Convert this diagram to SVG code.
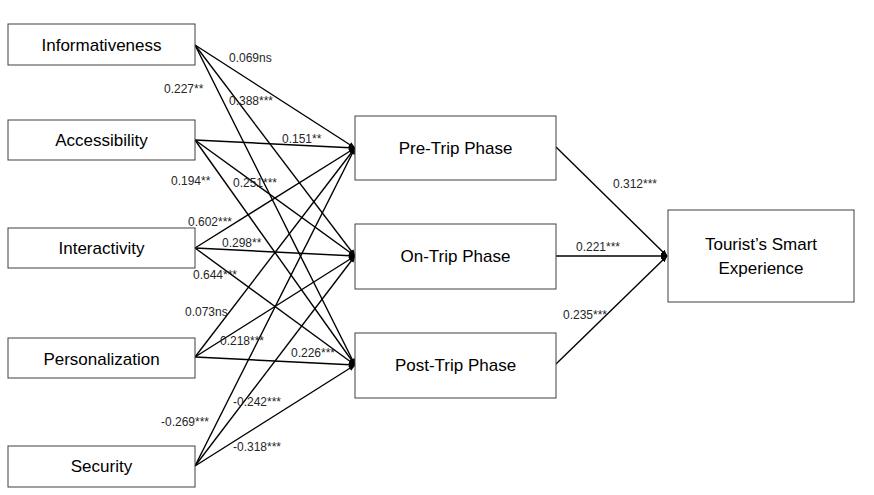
<svg xmlns="http://www.w3.org/2000/svg" width="874" height="495" viewBox="0 0 874 495">
  <style>
    .box { fill: #ffffff; stroke: #404040; stroke-width: 1; }
    .name { font-family: "Liberation Sans", Arial, sans-serif; font-size: 17px; fill: #000000; text-anchor: middle; }
    .lbl { font-family: "Liberation Sans", Arial, sans-serif; font-size: 12px; fill: #262626; }
    .edge { stroke: #000000; stroke-width: 1.4; fill: none; marker-end: url(#head); }
  </style>
  <defs>
    <marker id="head" viewBox="0 0 10 10" refX="9" refY="5" markerWidth="5" markerHeight="5" orient="auto" markerUnits="strokeWidth">
      <path d="M0,1 L10,5 L0,9 Z" fill="#000000"/>
    </marker>
  </defs>
  <rect width="874" height="495" fill="#ffffff"/>

  <!-- connectors -->
  <g id="connectors">
    <!-- Informativeness -->
    <line class="edge" x1="195" y1="45" x2="355" y2="148"/>
    <line class="edge" x1="195" y1="45" x2="355" y2="256"/>
    <line class="edge" x1="195" y1="45" x2="355" y2="365"/>
    <!-- Accessibility -->
    <line class="edge" x1="195" y1="140" x2="355" y2="148"/>
    <line class="edge" x1="195" y1="140" x2="355" y2="256"/>
    <line class="edge" x1="195" y1="140" x2="355" y2="365"/>
    <!-- Interactivity -->
    <line class="edge" x1="195" y1="248" x2="355" y2="148"/>
    <line class="edge" x1="195" y1="248" x2="355" y2="256"/>
    <line class="edge" x1="195" y1="248" x2="355" y2="365"/>
    <!-- Personalization -->
    <line class="edge" x1="195" y1="357" x2="355" y2="148"/>
    <line class="edge" x1="195" y1="357" x2="355" y2="256"/>
    <line class="edge" x1="195" y1="357" x2="355" y2="365"/>
    <!-- Security -->
    <line class="edge" x1="195" y1="466" x2="355" y2="148"/>
    <line class="edge" x1="195" y1="466" x2="355" y2="256"/>
    <line class="edge" x1="195" y1="466" x2="355" y2="365"/>
    <!-- phases to outcome -->
    <line class="edge" x1="556" y1="147" x2="667" y2="256"/>
    <line class="edge" x1="556" y1="256" x2="667" y2="256"/>
    <line class="edge" x1="556" y1="364" x2="667" y2="256"/>
  </g>

  <!-- path coefficients -->
  <g id="labels">
    <text class="lbl" x="229" y="62">0.069ns</text>
    <text class="lbl" x="164" y="93">0.227**</text>
    <text class="lbl" x="229" y="105">0.388***</text>
    <text class="lbl" x="282" y="143">0.151**</text>
    <text class="lbl" x="171" y="185">0.194**</text>
    <text class="lbl" x="233" y="187">0.251***</text>
    <text class="lbl" x="188" y="226">0.602***</text>
    <text class="lbl" x="222" y="247">0.298**</text>
    <text class="lbl" x="193" y="279">0.644***</text>
    <text class="lbl" x="185" y="316">0.073ns</text>
    <text class="lbl" x="220" y="345">0.218***</text>
    <text class="lbl" x="291" y="357">0.226***</text>
    <text class="lbl" x="233" y="406">-0.242***</text>
    <text class="lbl" x="161" y="426">-0.269***</text>
    <text class="lbl" x="233" y="451">-0.318***</text>
    <text class="lbl" x="613" y="188">0.312***</text>
    <text class="lbl" x="576" y="251">0.221***</text>
    <text class="lbl" x="563" y="319">0.235***</text>
  </g>

  <!-- antecedents -->
  <g id="informativeness">
    <rect class="box" x="8" y="24" width="187" height="41"/>
    <text class="name" x="101.5" y="51">Informativeness</text>
  </g>
  <g id="accessibility">
    <rect class="box" x="8" y="120" width="187" height="40"/>
    <text class="name" x="101.5" y="146">Accessibility</text>
  </g>
  <g id="interactivity">
    <rect class="box" x="8" y="228" width="187" height="40"/>
    <text class="name" x="101.5" y="254">Interactivity</text>
  </g>
  <g id="personalization">
    <rect class="box" x="8" y="338" width="187" height="40"/>
    <text class="name" x="101.5" y="365">Personalization</text>
  </g>
  <g id="security">
    <rect class="box" x="8" y="446" width="187" height="41"/>
    <text class="name" x="101.5" y="472">Security</text>
  </g>

  <!-- phases -->
  <g id="pre-trip">
    <rect class="box" x="355" y="116" width="201" height="64"/>
    <text class="name" x="455.5" y="154">Pre-Trip Phase</text>
  </g>
  <g id="on-trip">
    <rect class="box" x="355" y="224" width="201" height="65"/>
    <text class="name" x="455.5" y="262">On-Trip Phase</text>
  </g>
  <g id="post-trip">
    <rect class="box" x="355" y="333" width="201" height="65"/>
    <text class="name" x="455.5" y="371">Post-Trip Phase</text>
  </g>

  <!-- outcome -->
  <g id="smart-experience">
    <rect class="box" x="668" y="210" width="186" height="92"/>
    <text class="name" x="761" y="250">Tourist’s Smart</text>
    <text class="name" x="761" y="274">Experience</text>
  </g>
</svg>
